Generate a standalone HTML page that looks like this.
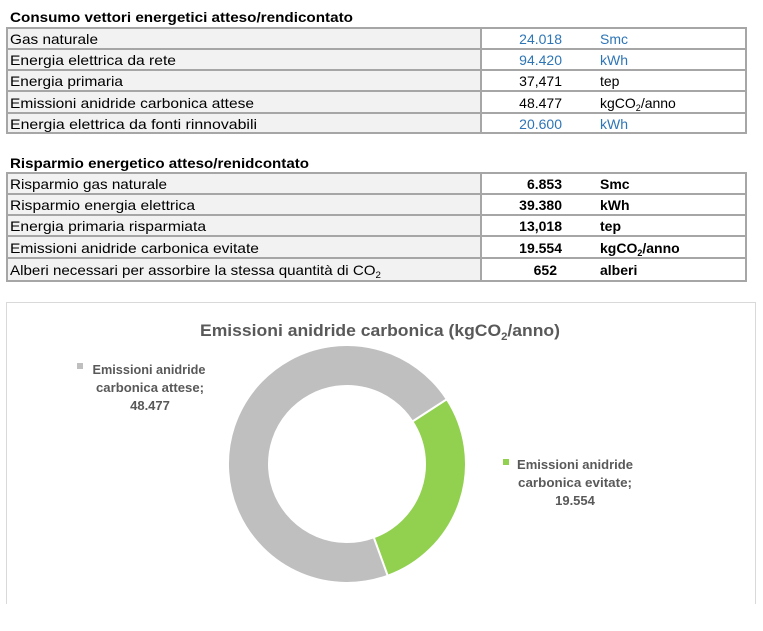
<!DOCTYPE html>
<html><head><meta charset="utf-8"><style>
html,body{margin:0;padding:0;background:#fff;}
svg{display:block;font-family:"Liberation Sans",sans-serif;}
</style></head><body>
<svg width="763" height="631" viewBox="0 0 763 631" xmlns="http://www.w3.org/2000/svg">
<text x="10" y="22" font-size="14" font-weight="bold" fill="#000" textLength="343" lengthAdjust="spacingAndGlyphs">Consumo vettori energetici atteso/rendicontato</text>
<rect x="7" y="28" width="474" height="105" fill="#f2f2f2"/>
<g stroke="#a6a6a6" stroke-width="2" fill="none">
<rect x="7" y="28" width="739" height="105"/>
<line x1="481" y1="28" x2="481" y2="133"/>
<line x1="7" y1="49" x2="746" y2="49"/>
<line x1="7" y1="70" x2="746" y2="70"/>
<line x1="7" y1="91" x2="746" y2="91"/>
<line x1="7" y1="113" x2="746" y2="113"/>
</g>
<g font-size="14" fill="#000">
<text x="10" y="44" textLength="88" lengthAdjust="spacingAndGlyphs">Gas naturale</text>
<text x="10" y="65" textLength="166" lengthAdjust="spacingAndGlyphs">Energia elettrica da rete</text>
<text x="10" y="86" textLength="113" lengthAdjust="spacingAndGlyphs">Energia primaria</text>
<text x="10" y="108" textLength="244" lengthAdjust="spacingAndGlyphs">Emissioni anidride carbonica attese</text>
<text x="10" y="129" textLength="247" lengthAdjust="spacingAndGlyphs">Energia elettrica da fonti rinnovabili</text>
<g text-anchor="end">
<text x="562" y="44" fill="#2e75b6">24.018</text>
<text x="562" y="65" fill="#2e75b6">94.420</text>
<text x="562" y="86">37,471</text>
<text x="562" y="108">48.477</text>
<text x="562" y="129" fill="#2e75b6">20.600</text>
</g>
<text x="600" y="44" fill="#2e75b6">Smc</text>
<text x="600" y="65" fill="#2e75b6">kWh</text>
<text x="600" y="86">tep</text>
<text x="600" y="108">kgCO<tspan font-size="9" dy="3">2</tspan><tspan dy="-3">/anno</tspan></text>
<text x="600" y="129" fill="#2e75b6">kWh</text>
</g>
<text x="10" y="168" font-size="14" font-weight="bold" fill="#000" textLength="299" lengthAdjust="spacingAndGlyphs">Risparmio energetico atteso/renidcontato</text>
<rect x="7" y="173" width="474" height="108" fill="#f2f2f2"/>
<g stroke="#a6a6a6" stroke-width="2" fill="none">
<rect x="7" y="173" width="739" height="108"/>
<line x1="481" y1="173" x2="481" y2="281"/>
<line x1="7" y1="194" x2="746" y2="194"/>
<line x1="7" y1="215" x2="746" y2="215"/>
<line x1="7" y1="236" x2="746" y2="236"/>
<line x1="7" y1="258" x2="746" y2="258"/>
</g>
<g font-size="14" fill="#000">
<text x="10" y="189" textLength="157" lengthAdjust="spacingAndGlyphs">Risparmio gas naturale</text>
<text x="10" y="210" textLength="185" lengthAdjust="spacingAndGlyphs">Risparmio energia elettrica</text>
<text x="10" y="231" textLength="196" lengthAdjust="spacingAndGlyphs">Energia primaria risparmiata</text>
<text x="10" y="253" textLength="249" lengthAdjust="spacingAndGlyphs">Emissioni anidride carbonica evitate</text>
<text x="10" y="275" textLength="371" lengthAdjust="spacingAndGlyphs">Alberi necessari per assorbire la stessa quantità di CO<tspan font-size="9" dy="3">2</tspan></text>
<g text-anchor="end" font-weight="bold">
<text x="562" y="189">6.853</text>
<text x="562" y="210">39.380</text>
<text x="562" y="231">13,018</text>
<text x="562" y="253">19.554</text>
<text x="557" y="275">652</text>
</g>
<g font-weight="bold">
<text x="600" y="189">Smc</text>
<text x="600" y="210">kWh</text>
<text x="600" y="231">tep</text>
<text x="600" y="253">kgCO<tspan font-size="9" dy="3">2</tspan><tspan dy="-3">/anno</tspan></text>
<text x="600" y="275">alberi</text>
</g>
</g>
<rect x="6.5" y="302.5" width="749" height="320" fill="#fff" stroke="#d9d9d9" stroke-width="1"/>
<rect x="0" y="604" width="763" height="27" fill="#fff"/>
<text x="380" y="336" font-size="17" font-weight="bold" fill="#595959" text-anchor="middle" textLength="360" lengthAdjust="spacingAndGlyphs">Emissioni anidride carbonica (kgCO<tspan font-size="11" dy="4">2</tspan><tspan dy="-4">/anno)</tspan></text>
<path d="M 446.8 399.2 A 119 119 0 0 1 387.7 575.8 L 373.7 537.3 A 78 78 0 0 0 412.4 421.5 Z" fill="#92d050" stroke="#fff" stroke-width="2"/>
<path d="M 387.7 575.8 A 119 119 0 1 1 446.8 399.2 L 412.4 421.5 A 78 78 0 1 0 373.7 537.3 Z" fill="#bfbfbf" stroke="#fff" stroke-width="2"/>
<g font-size="13" font-weight="bold" fill="#595959" text-anchor="middle">
<rect x="77" y="363" width="6" height="6" fill="#bfbfbf"/>
<text x="149" y="374" textLength="113" lengthAdjust="spacingAndGlyphs">Emissioni anidride</text>
<text x="150" y="392" textLength="108" lengthAdjust="spacingAndGlyphs">carbonica attese;</text>
<text x="150" y="410">48.477</text>
<rect x="503" y="459" width="6" height="6" fill="#92d050"/>
<text x="575" y="469" textLength="116" lengthAdjust="spacingAndGlyphs">Emissioni anidride</text>
<text x="575" y="487" textLength="114" lengthAdjust="spacingAndGlyphs">carbonica evitate;</text>
<text x="575" y="505">19.554</text>
</g>
</svg>
</body></html>
